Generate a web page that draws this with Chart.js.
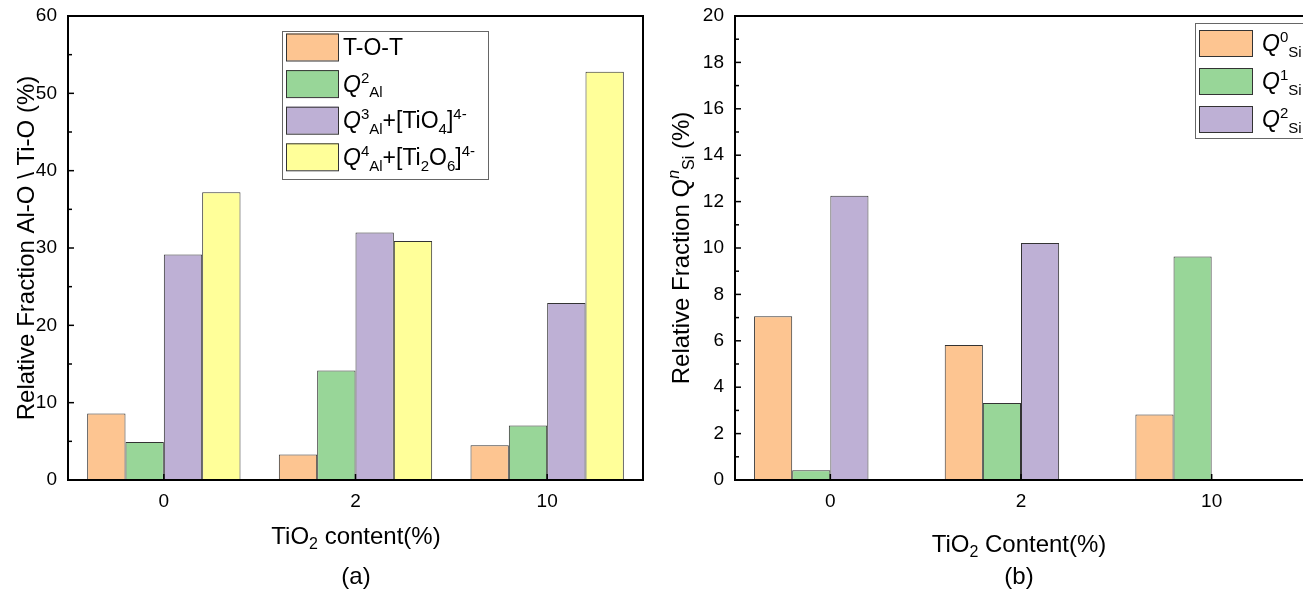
<!DOCTYPE html>
<html>
<head>
<meta charset="utf-8">
<script src="https://cdn.jsdelivr.net/npm/chart.js@4"></script>
<style>
  html, body { margin: 0; padding: 0; background: #fff; overflow: hidden; }
  #wrap { position: relative; width: 1303px; height: 592px; overflow: hidden; }
  #left { position: absolute; left: 0; top: 0; }
  #right { position: absolute; left: 650px; top: 0; }
</style>
</head>
<body>
<div id="wrap">
  <canvas id="left" width="650" height="592" style="width:650px;height:592px"></canvas>
  <canvas id="right" width="680" height="592" style="width:680px;height:592px"></canvas>
</div>
<script>
// TiO2 content categories
const categories = ['0', '2', '10'];

// (a) Al-O / Ti-O relative fractions (%)
const totAl = [8.6, 3.3, 4.5];
const q2Al = [4.9, 14.15, 7.05];
const q3Al = [29.15, 32.0, 22.9];
const q4Al = [37.2, 30.9, 52.8];

// (b) Q^n Si relative fractions (%)
const q0Si = [7.06, 5.82, 2.82];
const q1Si = [0.42, 3.32, 9.63];
const q2Si = [12.25, 10.22, 0];

// y tick values
const leftYTicks = [0, 10, 20, 30, 40, 50, 60];
const rightYTicks = [0, 2, 4, 6, 8, 10, 12, 14, 16, 18, 20];

// rich text pieces: [text, style] where style is '', 'i', 'sup', 'isup', 'sub'
const leftLegend = [
  [['T-O-T']],
  [['Q', 'i'], ['2', 'sup'], ['Al', 'sub']],
  [['Q', 'i'], ['3', 'sup'], ['Al', 'sub'], ['+[TiO'], ['4', 'sub'], [']'], ['4-', 'sup']],
  [['Q', 'i'], ['4', 'sup'], ['Al', 'sub'], ['+[Ti'], ['2', 'sub'], ['O'], ['6', 'sub'], [']'], ['4-', 'sup']]
];
const rightLegend = [
  [['Q', 'i'], ['0', 'sup'], ['Si', 'sub']],
  [['Q', 'i'], ['1', 'sup'], ['Si', 'sub']],
  [['Q', 'i'], ['2', 'sup'], ['Si', 'sub']]
];
const leftYTitle = [['Relative Fraction Al-O \\ Ti-O (%)']];
const rightYTitle = [['Relative Fraction Q'], ['n', 'isup'], ['Si', 'sub'], [' (%)']];
const leftXTitle = [['TiO'], ['2', 'sub'], [' content(%)']];
const rightXTitle = [['TiO'], ['2', 'sub'], [' Content(%)']];

const FONT = 'Arial, "Liberation Sans", sans-serif';
const TITLE_SIZE = 24;
const LEGEND_SIZE = 23;
const TICK_SIZE = 19;
const colors = {
  orange: '#FDC591',
  green: '#98D698',
  purple: '#BEB0D5',
  yellow: '#FFFF99'
};

function pieceFont(style, size) {
  const small = style === 'sup' || style === 'sub' || style === 'isup';
  const italic = style === 'i' || style === 'isup';
  return (italic ? 'italic ' : '') + (small ? Math.round(size * 0.66) : size) + 'px ' + FONT;
}

function drawRich(ctx, parts, x, y, size, align) {
  let w = 0;
  parts.forEach(([t, s = '']) => { ctx.font = pieceFont(s, size); w += ctx.measureText(t).width; });
  let cx = align === 'center' ? x - w / 2 : x;
  ctx.textAlign = 'left';
  ctx.textBaseline = 'alphabetic';
  parts.forEach(([t, s = '']) => {
    ctx.font = pieceFont(s, size);
    const dy = (s === 'sup' || s === 'isup') ? -size * 0.4 : s === 'sub' ? size * 0.24 : 0;
    ctx.fillText(t, cx, y + dy);
    cx += ctx.measureText(t).width;
  });
}

// frame, inward ticks, legend and axis titles
const decorations = {
  id: 'decorations',
  afterDraw(chart, args, o) {
    const { ctx, chartArea: a, scales: { x, y } } = chart;
    ctx.save();
    ctx.strokeStyle = '#000';
    ctx.lineWidth = 2;
    ctx.strokeRect(a.left, a.top, a.right - a.left, a.bottom - a.top);

    ctx.lineWidth = 1.5;
    const n = Math.round((y.max - y.min) / o.minorStep);
    for (let k = 0; k <= n; k++) {
      const v = y.min + k * o.minorStep;
      const py = y.getPixelForValue(v);
      const major = Math.abs(v / o.majorStep - Math.round(v / o.majorStep)) < 1e-6;
      ctx.beginPath();
      ctx.moveTo(a.left, py);
      ctx.lineTo(a.left + (major ? 6 : 4), py);
      ctx.stroke();
    }
    chart.data.labels.forEach((lab, i) => {
      const px = x.getPixelForValue(i);
      ctx.beginPath();
      ctx.moveTo(px, a.bottom);
      ctx.lineTo(px, a.bottom - 6);
      ctx.stroke();
    });

    // legend
    const L = o.legend;
    ctx.fillStyle = '#fff';
    ctx.fillRect(L.box[0], L.box[1], L.box[2], L.box[3]);
    ctx.strokeStyle = '#666';
    ctx.lineWidth = 1;
    ctx.strokeRect(L.box[0] + 0.5, L.box[1] + 0.5, L.box[2], L.box[3]);
    L.labels.forEach((parts, i) => {
      const ds = chart.data.datasets[i];
      const sy = L.y0 + i * L.pitch;
      ctx.fillStyle = ds.backgroundColor;
      ctx.fillRect(L.x, sy, L.w, L.h);
      ctx.strokeStyle = '#333';
      ctx.strokeRect(L.x + 0.5, sy + 0.5, L.w, L.h);
      ctx.fillStyle = '#000';
      drawRich(ctx, parts, L.textX, sy + L.h / 2 + LEGEND_SIZE * 0.36, LEGEND_SIZE, 'left');
    });

    // axis titles
    ctx.fillStyle = '#000';
    drawRich(ctx, o.xTitle, o.xTitlePos[0], o.xTitlePos[1], TITLE_SIZE, 'center');
    drawRich(ctx, [[o.panel]], o.xTitlePos[0], o.panelY, TITLE_SIZE, 'center');
    ctx.save();
    ctx.translate(o.yTitleX, (a.top + a.bottom) / 2);
    ctx.rotate(-Math.PI / 2);
    drawRich(ctx, o.yTitle, 0, 0, TITLE_SIZE, 'center');
    ctx.restore();
    ctx.restore();
  }
};

function bar(label, data, color) {
  return {
    label, data,
    backgroundColor: color,
    borderColor: '#333',
    borderWidth: 1,
    borderSkipped: false,
    barPercentage: 1,
    categoryPercentage: 0.8
  };
}

function makeOptions(yMax, yTicks, yWidth, padRight, deco) {
  return {
    responsive: false,
    animation: false,
    layout: { padding: { top: 16, right: padRight, bottom: 0, left: 0 } },
    plugins: { legend: { display: false }, tooltip: { enabled: false }, decorations: deco },
    scales: {
      x: {
        grid: { display: false, drawTicks: false },
        border: { display: false },
        ticks: { font: { family: FONT, size: TICK_SIZE }, color: '#000', padding: 10 },
        afterFit: s => { s.height = 112; s.paddingLeft = 0; s.paddingRight = 0; }
      },
      y: {
        min: 0, max: yMax,
        grid: { display: false, drawTicks: false },
        border: { display: false },
        ticks: { font: { family: FONT, size: TICK_SIZE }, color: '#000', padding: 11 },
        afterBuildTicks: s => { s.ticks = yTicks.map(v => ({ value: v })); },
        afterFit: s => { s.width = yWidth; s.paddingTop = 0; s.paddingBottom = 0; }
      }
    }
  };
}

new Chart(document.getElementById('left'), {
  type: 'bar',
  data: {
    labels: categories,
    datasets: [
      bar('T-O-T', totAl, colors.orange),
      bar('Q2 Al', q2Al, colors.green),
      bar('Q3 Al+[TiO4]4-', q3Al, colors.purple),
      bar('Q4 Al+[Ti2O6]4-', q4Al, colors.yellow)
    ]
  },
  options: makeOptions(60, leftYTicks, 68, 7, {
    minorStep: 5, majorStep: 10,
    legend: { box: [282, 31, 206, 148], x: 286, y0: 33.5, w: 52, h: 27, pitch: 36.6, textX: 343, labels: leftLegend },
    xTitle: leftXTitle, xTitlePos: [356, 543.5], panel: '(a)', panelY: 584,
    yTitle: leftYTitle, yTitleX: 33.5
  }),
  plugins: [decorations]
});

new Chart(document.getElementById('right'), {
  type: 'bar',
  data: {
    labels: categories,
    datasets: [
      bar('Q0 Si', q0Si, colors.orange),
      bar('Q1 Si', q1Si, colors.green),
      bar('Q2 Si', q2Si, colors.purple),
      bar('', [], colors.yellow)
    ]
  },
  options: makeOptions(20, rightYTicks, 85, 23, {
    minorStep: 1, majorStep: 2,
    legend: { box: [545, 23, 130, 115], x: 549, y0: 30, w: 53, h: 26, pitch: 38, textX: 612, labels: rightLegend },
    xTitle: rightXTitle, xTitlePos: [369, 551.5], panel: '(b)', panelY: 584,
    yTitle: rightYTitle, yTitleX: 38.5
  }),
  plugins: [decorations]
});
</script>
</body>
</html>
